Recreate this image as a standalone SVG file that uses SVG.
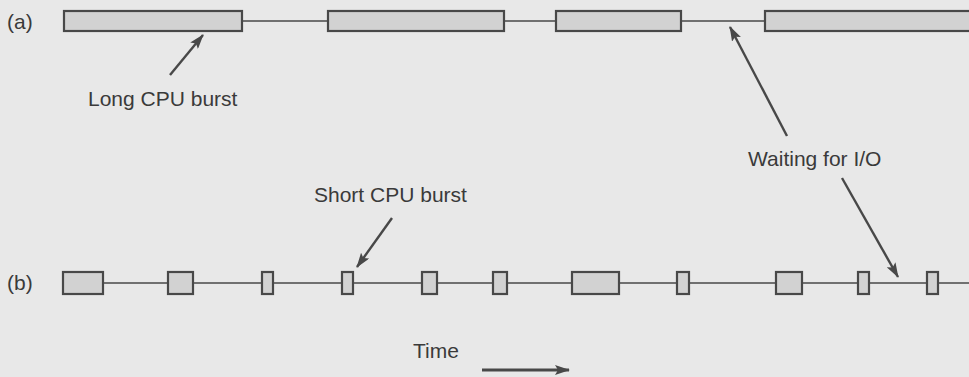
<svg xmlns="http://www.w3.org/2000/svg" width="969" height="377" viewBox="0 0 969 377">
<style>
.bg{fill:#e8e8e8}
.burst{fill:#d2d2d2;stroke:#484848;stroke-width:2.2}
.wait{stroke:#484848;stroke-width:1.7;fill:none}
.ptr{stroke:#484848;stroke-width:2.4;fill:none;marker-end:url(#ah)}
.time{stroke-width:3}
text{font-family:"Liberation Sans",Arial,sans-serif;font-size:21px;fill:#3a3a3a}
</style>
<defs>
<marker id="ah" viewBox="0 0 15 10" refX="14" refY="5" markerWidth="15" markerHeight="10" markerUnits="userSpaceOnUse" orient="auto">
<path d="M0,0 L15,5 L0,10 L3,5 Z" fill="#484848"/>
</marker>
</defs>
<rect class="bg" x="0" y="0" width="969" height="377"/>
<g id="connectors">
<line class="wait" x1="242" y1="21" x2="328" y2="21"/>
<line class="wait" x1="504" y1="21" x2="556" y2="21"/>
<line class="wait" x1="681" y1="21" x2="765" y2="21"/>
<line class="wait" x1="103" y1="283" x2="969" y2="283"/>
<line class="ptr" x1="170" y1="75" x2="203" y2="35"/>
<line class="ptr" x1="787" y1="136" x2="730" y2="27"/>
<line class="ptr" x1="842" y1="178" x2="898" y2="277"/>
<line class="ptr" x1="392" y1="218" x2="357" y2="267"/>
<line class="ptr time" x1="482" y1="370" x2="569" y2="370"/>
</g>
<g id="row-a">
<text x="7" y="29">(a)</text>
<rect class="burst" x="64" y="11" width="178" height="20"/>
<rect class="burst" x="328" y="11" width="176" height="20"/>
<rect class="burst" x="556" y="11" width="125" height="20"/>
<rect class="burst" x="765" y="11" width="215" height="20"/>
</g>
<g id="row-b">
<text x="7" y="290">(b)</text>
<rect class="burst" x="63" y="272" width="40" height="22"/>
<rect class="burst" x="168" y="272" width="25" height="22"/>
<rect class="burst" x="262" y="272" width="11" height="22"/>
<rect class="burst" x="342" y="272" width="11" height="22"/>
<rect class="burst" x="422" y="272" width="15" height="22"/>
<rect class="burst" x="493" y="272" width="14" height="22"/>
<rect class="burst" x="572" y="272" width="47" height="22"/>
<rect class="burst" x="677" y="272" width="12" height="22"/>
<rect class="burst" x="776" y="272" width="26" height="22"/>
<rect class="burst" x="858" y="272" width="11" height="22"/>
<rect class="burst" x="927" y="272" width="11" height="22"/>
</g>
<g id="label-long"><text x="88" y="106">Long CPU burst</text></g>
<g id="label-wait"><text x="748" y="166">Waiting for I/O</text></g>
<g id="label-short"><text x="314" y="202">Short CPU burst</text></g>
<g id="label-time"><text x="413" y="358">Time</text></g>
</svg>
